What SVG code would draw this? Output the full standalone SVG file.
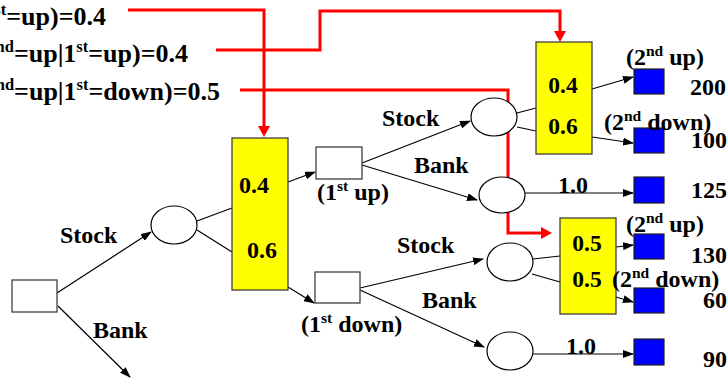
<svg xmlns="http://www.w3.org/2000/svg" width="727" height="379" viewBox="0 0 727 379" font-family="'Liberation Serif', 'Times New Roman', serif">
<style>
text{font-family:'Liberation Serif','Times New Roman',serif;font-weight:bold;fill:#000;}
.t{font-size:24px;}
.top{font-size:26px;}
.sup{font-size:15.5px;}
.tsup{font-size:16.5px;}
.num{font-size:23.5px;text-anchor:middle;}
.dec{fill:#fff;stroke:#404040;stroke-width:1.3;}
.chance{fill:#fff;stroke:#000;stroke-width:1.2;}
.prob{fill:#ffff00;stroke:#404040;stroke-width:1.3;}
.leaf{fill:#0000ff;stroke:#202020;stroke-width:1.2;}
.c{stroke:#000;stroke-width:1.2;fill:none;}
.a{stroke:#000;stroke-width:1.2;fill:none;marker-end:url(#ah);}
.r{stroke:#ff0000;stroke-width:3;fill:none;marker-end:url(#rh);}
</style>
<defs>
<marker id="ah" markerUnits="userSpaceOnUse" markerWidth="11" markerHeight="8" refX="10" refY="4" orient="auto">
<path d="M0,0 L11,4 L0,8 z" fill="#000"/>
</marker>
<marker id="rh" markerUnits="userSpaceOnUse" markerWidth="12" markerHeight="12" refX="6" refY="6" orient="auto">
<path d="M0,0 L11,6 L0,12 z" fill="#ff0000"/>
</marker>
</defs>

<g id="top-texts">
<text class="top" x="106" y="25" text-anchor="end">P(1<tspan class="tsup" dy="-10">st</tspan><tspan dy="10">=up)=0.4</tspan></text>
<text class="top" x="188" y="62" text-anchor="end">P(2<tspan class="tsup" dy="-10">nd</tspan><tspan dy="10">=up|1</tspan><tspan class="tsup" dy="-10">st</tspan><tspan dy="10">=up)=0.4</tspan></text>
<text class="top" x="220" y="100" text-anchor="end">P(2<tspan class="tsup" dy="-10">nd</tspan><tspan dy="10">=up|1</tspan><tspan class="tsup" dy="-10">st</tspan><tspan dy="10">=down)=0.5</tspan></text>
</g>

<g id="connectors">
<path class="r" d="M128,10 H264 V132"/>
<path class="r" d="M216,50 H320 V11 H560 V37"/>
<path class="r" d="M240,90 H508 V233 H547"/>
<line class="a" x1="57" y1="293" x2="151" y2="232"/>
<line class="a" x1="58" y1="306" x2="130" y2="377"/>
<line class="c" x1="197" y1="221" x2="232" y2="208"/>
<line class="c" x1="197" y1="230" x2="232" y2="252"/>
<line class="a" x1="288" y1="182" x2="315" y2="172"/>
<line class="a" x1="288" y1="287" x2="314" y2="303"/>
<line class="a" x1="362" y1="163" x2="470" y2="121"/>
<line class="a" x1="362" y1="165" x2="477" y2="200"/>
<line class="a" x1="360" y1="288" x2="483" y2="259"/>
<line class="a" x1="360" y1="290" x2="484" y2="347"/>
<line class="c" x1="517" y1="113" x2="536" y2="108"/>
<line class="c" x1="517" y1="127" x2="536" y2="131"/>
<line class="a" x1="592" y1="89" x2="633" y2="77"/>
<line class="a" x1="592" y1="137" x2="633" y2="143"/>
<line class="a" x1="525" y1="193" x2="633" y2="193"/>
<line class="c" x1="533" y1="259" x2="560" y2="256"/>
<line class="c" x1="532" y1="274" x2="560" y2="282"/>
<line class="a" x1="616" y1="247" x2="633" y2="245"/>
<line class="a" x1="616" y1="297" x2="633" y2="302"/>
<line class="a" x1="533" y1="354" x2="633" y2="354"/>
</g>

<g id="root"><rect class="dec" x="12" y="280" width="45" height="32"/></g>
<g id="chance0"><ellipse class="chance" cx="174" cy="225" rx="23" ry="19"/></g>
<g id="prob1">
<rect class="prob" x="232" y="138" width="56" height="152"/>
<text class="t" x="239" y="193">0.4</text>
<text class="t" x="247" y="258">0.6</text>
</g>
<g id="dec-1st-up">
<rect class="dec" x="316" y="147" width="46" height="32"/>
<text class="t" x="317" y="200">(1<tspan class="sup" dy="-9">st</tspan><tspan dy="9"> up)</tspan></text>
</g>
<g id="dec-1st-down">
<rect class="dec" x="315" y="272" width="45" height="31"/>
<text class="t" x="301" y="332">(1<tspan class="sup" dy="-9">st</tspan><tspan dy="9"> down)</tspan></text>
</g>
<g id="chance1"><ellipse class="chance" cx="494" cy="117" rx="23" ry="19"/></g>
<g id="chance2"><ellipse class="chance" cx="502" cy="195" rx="23" ry="18"/></g>
<g id="chance3"><ellipse class="chance" cx="510" cy="262" rx="23" ry="19"/></g>
<g id="chance4"><ellipse class="chance" cx="510" cy="351" rx="23" ry="19"/></g>
<g id="prob2">
<rect class="prob" x="536" y="42" width="56" height="112"/>
<text class="num" x="563" y="93">0.4</text>
<text class="num" x="563" y="134">0.6</text>
</g>
<g id="prob3">
<rect class="prob" x="560" y="218" width="56" height="96"/>
<text class="num" x="587" y="251">0.5</text>
<text class="num" x="587" y="287">0.5</text>
</g>
<g id="leaf1"><rect class="leaf" x="634" y="69" width="30" height="25"/><text class="t" x="690" y="95">200</text></g>
<g id="leaf2"><rect class="leaf" x="634" y="128" width="30" height="25"/><text class="t" x="691" y="148">100</text></g>
<g id="leaf3"><rect class="leaf" x="634" y="177" width="30" height="26"/><text class="t" x="691" y="198">125</text></g>
<g id="leaf4"><rect class="leaf" x="634" y="234" width="30" height="25"/><text class="t" x="691" y="263">130</text></g>
<g id="leaf5"><rect class="leaf" x="634" y="288" width="30" height="25"/><text class="t" x="703" y="308">60</text></g>
<g id="leaf6"><rect class="leaf" x="634" y="339" width="30" height="26"/><text class="t" x="703" y="367">90</text></g>

<g id="labels">
<text class="t" x="60" y="243">Stock</text>
<text class="t" x="93" y="338">Bank</text>
<text class="t" x="382" y="126">Stock</text>
<text class="t" x="414" y="173">Bank</text>
<text class="t" x="397" y="253">Stock</text>
<text class="t" x="422" y="308">Bank</text>
<text class="t" x="558" y="193">1.0</text>
<text class="t" x="566" y="354">1.0</text>
<text class="t" x="626" y="65">(2<tspan class="sup" dy="-9">nd</tspan><tspan dy="9"> up)</tspan></text>
<text class="t" x="604" y="130">(2<tspan class="sup" dy="-9">nd</tspan><tspan dy="9"> down)</tspan></text>
<text class="t" x="626" y="232">(2<tspan class="sup" dy="-9">nd</tspan><tspan dy="9"> up)</tspan></text>
<text class="t" x="612" y="287">(2<tspan class="sup" dy="-9">nd</tspan><tspan dy="9"> down)</tspan></text>
</g>
</svg>
